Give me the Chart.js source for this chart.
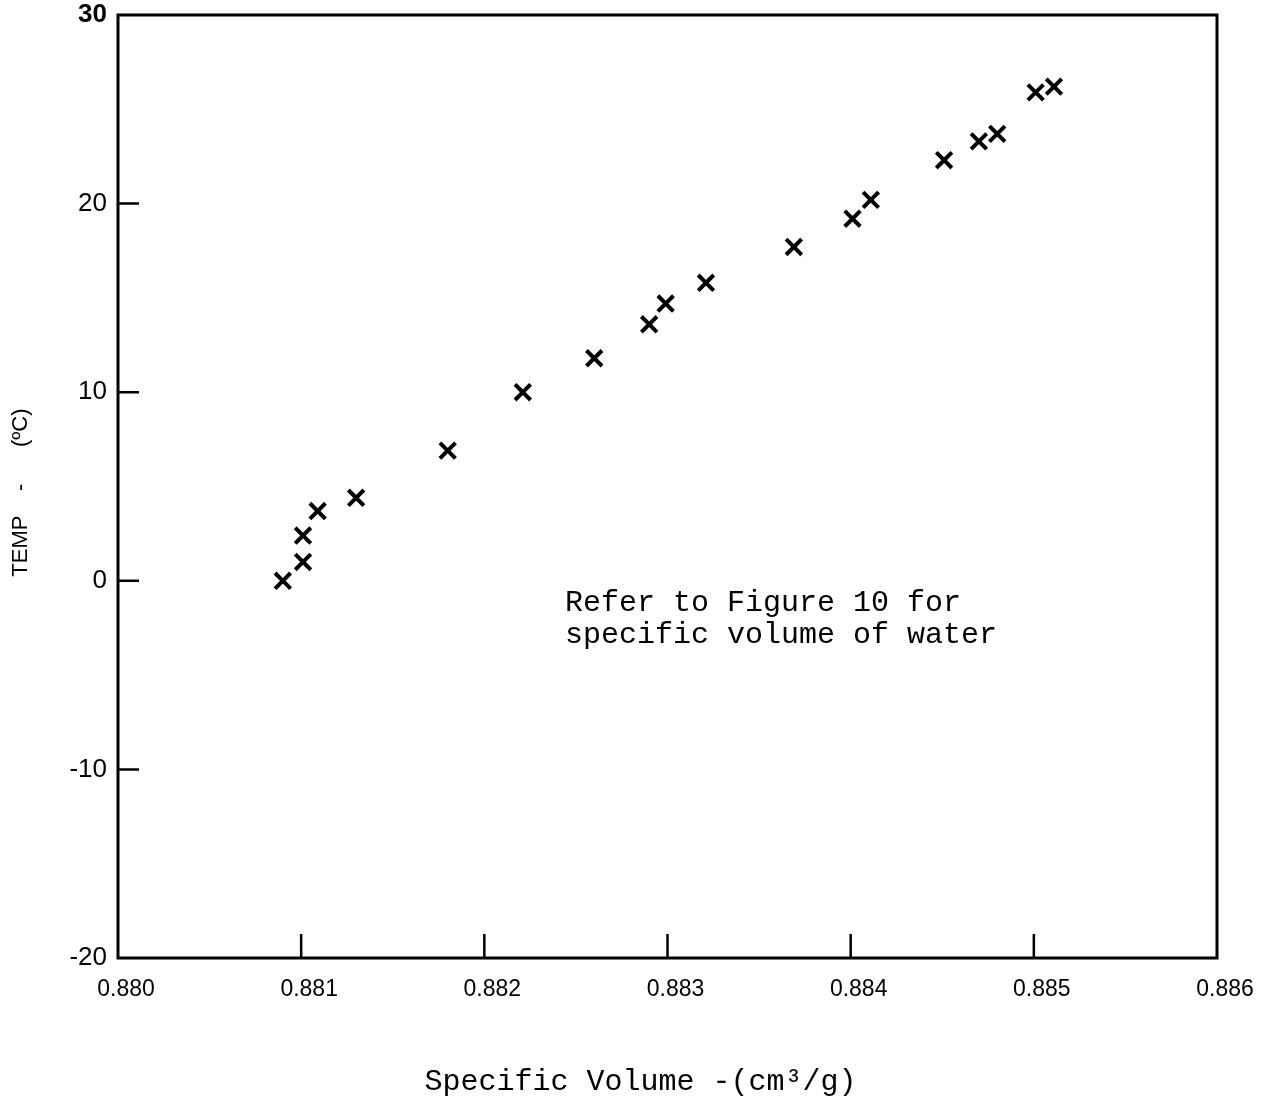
<!DOCTYPE html>
<html>
<head>
<meta charset="utf-8">
<title>Specific volume vs temperature</title>
<script src="https://cdn.jsdelivr.net/npm/chart.js@4/dist/chart.umd.min.js"></script>
<style>
  html, body { margin: 0; padding: 0; background: #fff; }
  #wrap { width: 1269px; height: 1104px; position: relative; }
</style>
</head>
<body>
<div id="wrap"><canvas id="chart"></canvas></div>
<script>
// values
const specVolume = [0.88090, 0.88101, 0.88101, 0.88109, 0.88130, 0.88180, 0.88221, 0.88260, 0.88290, 0.88299,
                    0.88321, 0.88369, 0.88401, 0.88411, 0.88451, 0.88470, 0.88480, 0.88501, 0.88511];
const tempC = [0.0, 1.0, 2.4, 3.7, 4.4, 6.9, 10.0, 11.8, 13.6, 14.7,
               15.8, 17.7, 19.2, 20.2, 22.3, 23.3, 23.7, 25.9, 26.2];

const xMin = 0.880, xMax = 0.886, xStep = 0.001;
const yMin = -20, yMax = 30, yStep = 10;

const noteLines = ['Refer to Figure 10 for', 'specific volume of water'];
const noteAt = { x: 0.88244, y: -1.2 };

const points = specVolume.map((v, i) => ({ x: v, y: tempC[i] }));

// frame around the plot area + inward tick marks + note
const framePlugin = {
    id: 'frame',
    afterDraw(chart) {
        const { ctx, chartArea: a, scales: { x, y } } = chart;
        ctx.save();
        ctx.strokeStyle = '#000';
        ctx.lineWidth = 3;
        ctx.strokeRect(a.left, a.top, a.right - a.left, a.bottom - a.top);

        ctx.lineWidth = 2.5;
        ctx.beginPath();
        x.ticks.forEach(t => {
            const px = x.getPixelForValue(t.value);
            if (px <= a.left + 2 || px >= a.right - 2) return;
            ctx.moveTo(px, a.bottom);
            ctx.lineTo(px, a.bottom - 24);
        });
        y.ticks.forEach(t => {
            const py = y.getPixelForValue(t.value);
            if (py <= a.top + 2 || py >= a.bottom - 2) return;
            ctx.moveTo(a.left, py);
            ctx.lineTo(a.left + 21, py);
        });
        ctx.stroke();

        // note text
        ctx.fillStyle = '#000';
        ctx.font = '30px "Liberation Mono", "DejaVu Sans Mono", monospace';
        ctx.textBaseline = 'middle';
        const nx = x.getPixelForValue(noteAt.x);
        const ny = y.getPixelForValue(noteAt.y);
        noteLines.forEach((line, i) => ctx.fillText(line, nx, ny + i * 32));
        ctx.restore();
    }
};

new Chart(document.getElementById('chart'), {
    type: 'scatter',
    data: {
        datasets: [{
            data: points,
            pointStyle: 'crossRot',
            pointRadius: 11,
            pointHoverRadius: 11,
            borderWidth: 4,
            borderColor: '#000',
            backgroundColor: '#000'
        }]
    },
    options: {
        responsive: true,
        maintainAspectRatio: false,
        animation: false,
        layout: { padding: { left: 0, top: 13, right: 52, bottom: 0 } },
        plugins: {
            legend: { display: false },
            tooltip: { enabled: false }
        },
        scales: {
            x: {
                type: 'linear',
                min: xMin,
                max: xMax,
                border: { display: false },
                grid: { display: false },
                ticks: {
                    stepSize: xStep,
                    color: '#000',
                    padding: 10,
                    labelOffset: 8,
                    maxRotation: 0,
                    font: { family: '"Liberation Sans", Arial, sans-serif', size: 23 },
                    callback: v => Number(v).toFixed(3)
                },
                title: {
                    display: true,
                    text: 'Specific Volume -(cm³/g)   ',
                    color: '#000',
                    font: { family: '"Liberation Mono", "DejaVu Sans Mono", monospace', size: 30 },
                    padding: { top: 0, bottom: 4 }
                },
                afterFit(scale) {
                    scale.height = 146;
                    scale.paddingLeft = 0;
                    scale.paddingRight = 0;
                }
            },
            y: {
                type: 'linear',
                min: yMin,
                max: yMax,
                border: { display: false },
                grid: { display: false },
                ticks: {
                    stepSize: yStep,
                    color: '#000',
                    padding: 3,
                    font: ctx => ({
                        family: '"Liberation Sans", Arial, sans-serif',
                        size: 26,
                        weight: ctx.tick && ctx.tick.value === yMax ? 'bold' : 'normal'
                    })
                },
                title: {
                    display: true,
                    text: 'TEMP    -      (ºC)  ',
                    color: '#000',
                    font: { family: '"Liberation Sans", Arial, sans-serif', size: 22 },
                    padding: { top: 8, bottom: 0 }
                },
                afterFit(scale) {
                    scale.width = 118;
                    scale.paddingTop = 0;
                    scale.paddingBottom = 0;
                }
            }
        }
    },
    plugins: [framePlugin]
});
</script>
</body>
</html>
